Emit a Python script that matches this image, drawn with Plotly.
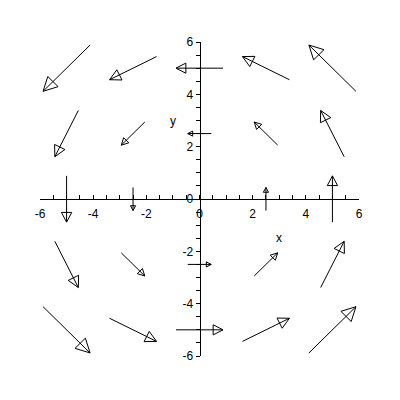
import plotly.graph_objects as go
import math

# grid of arrow positions (rows from top y=5 to bottom y=-5)
grid_x = [-5, -2.5, 0, 2.5, 5]
grid_y = [5, 2.5, 0, -2.5, -5]

# vector components at each grid point (row = grid_y, column = grid_x)
u_rows = [
    [-5, -5, -5, -5, -5],
    [-2.5, -2.5, -2.5, -2.5, -2.5],
    [0, 0, 0, 0, 0],
    [2.5, 2.5, 2.5, 2.5, 2.5],
    [5, 5, 5, 5, 5],
]
v_rows = [
    [-5, -2.5, 0, 2.5, 5],
    [-5, -2.5, 0, 2.5, 5],
    [-5, -2.5, 0, 2.5, 5],
    [-5, -2.5, 0, 2.5, 5],
    [-5, -2.5, 0, 2.5, 5],
]

x_ticks = [-6, -4, -2, 0, 2, 4, 6]
y_ticks = [-6, -4, -2, 0, 2, 4, 6]

spacing = 2.5
mags = [math.hypot(u, v) for ur, vr in zip(u_rows, v_rows) for u, v in zip(ur, vr)]
scale = spacing / max(mags)

shaft_x, shaft_y, head_x, head_y = [], [], [], []
for j, yc in enumerate(grid_y):
    for i, xc in enumerate(grid_x):
        u = u_rows[j][i] * scale
        v = v_rows[j][i] * scale
        L = math.hypot(u, v)
        if L == 0:
            continue
        tx, ty = xc - u / 2, yc - v / 2
        ax, ay = xc + u / 2, yc + v / 2
        shaft_x += [tx, ax, None]
        shaft_y += [ty, ay, None]
        dx, dy = u / L, v / L
        hl, hw = 0.21 * L, 0.11 * L
        bx, by = ax - hl * dx, ay - hl * dy
        px, py = -dy, dx
        head_x += [ax, bx + hw * px, bx - hw * px, ax, None]
        head_y += [ay, by + hw * py, by - hw * py, ay, None]

fig = go.Figure()
fig.add_trace(go.Scatter(x=head_x, y=head_y, mode="lines", fill="toself",
                         fillcolor="white", line=dict(color="black", width=1),
                         hoverinfo="skip", showlegend=False))
fig.add_trace(go.Scatter(x=shaft_x, y=shaft_y, mode="lines",
                         line=dict(color="black", width=1),
                         hoverinfo="skip", showlegend=False))

font = dict(family="Liberation Sans, Arial, sans-serif", size=12, color="black")

fig.update_layout(
    width=400, height=400,
    margin=dict(l=32, r=49, t=34, b=52),
    paper_bgcolor="white", plot_bgcolor="white",
    showlegend=False,
    font=font,
    xaxis=dict(range=[-6, 6], anchor="free", position=0.5,
               showline=True, linecolor="black", linewidth=1,
               ticks="inside", ticklen=4, tickcolor="black",
               tickvals=x_ticks, ticktext=[str(t) for t in x_ticks],
               minor=dict(dtick=0.5, ticks="inside", ticklen=4, tickcolor="black"),
               ticklabelstandoff=4,
               showgrid=False, zeroline=False, tickfont=font),
    yaxis=dict(range=[-6, 6], anchor="free", position=0.5,
               showline=True, linecolor="black", linewidth=1,
               ticks="outside", ticklen=4, tickcolor="black",
               tickvals=y_ticks, ticktext=[str(t) for t in y_ticks],
               minor=dict(dtick=0.5, ticks="outside", ticklen=4, tickcolor="black"),
               showgrid=False, zeroline=False, tickfont=font),
    annotations=[
        dict(x=3.0, y=-1.5, xref="x", yref="y", text="x", showarrow=False, font=font),
        dict(x=-1.0, y=3.0, xref="x", yref="y", text="y", showarrow=False, font=font),
    ],
)

fig.write_html("out.html")
